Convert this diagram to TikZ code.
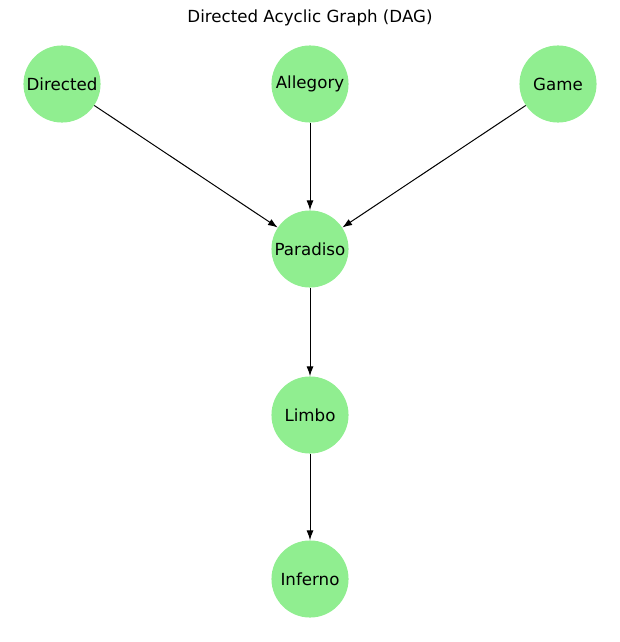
\documentclass[tikz,border=0pt]{standalone}
\usepackage{fontspec}
\setmainfont{DejaVu Sans}
\usetikzlibrary{arrows.meta}
\definecolor{nodegreen}{HTML}{90EE90}
\begin{document}
\begin{tikzpicture}[x=0.72pt,y=-0.72pt,
  vertex/.style={circle,fill=nodegreen,minimum size=55.5pt,inner sep=0pt,font=\fontsize{12}{14}\selectfont},
  edge/.style={draw=black,line width=0.72pt,-{Latex[length=7pt,width=5pt]}}]
\useasboundingbox (0,0) rectangle (619,642);
\node (title) at (310,18) {\fontsize{12}{14}\selectfont Directed Acyclic Graph (DAG)};
\node[vertex] (directed) at (62,84) {Directed};
\node[vertex] (allegory) at (310,84) {Allegory};
\node[vertex] (game) at (558,84) {Game};
\node[vertex] (paradiso) at (310,249) {Paradiso};
\node[vertex] (limbo) at (310,415) {Limbo};
\node[vertex] (inferno) at (310,579) {Inferno};
\draw[edge] (directed) -- (paradiso);
\draw[edge] (allegory) -- (paradiso);
\draw[edge] (game) -- (paradiso);
\draw[edge] (paradiso) -- (limbo);
\draw[edge] (limbo) -- (inferno);
\end{tikzpicture}
\end{document}
